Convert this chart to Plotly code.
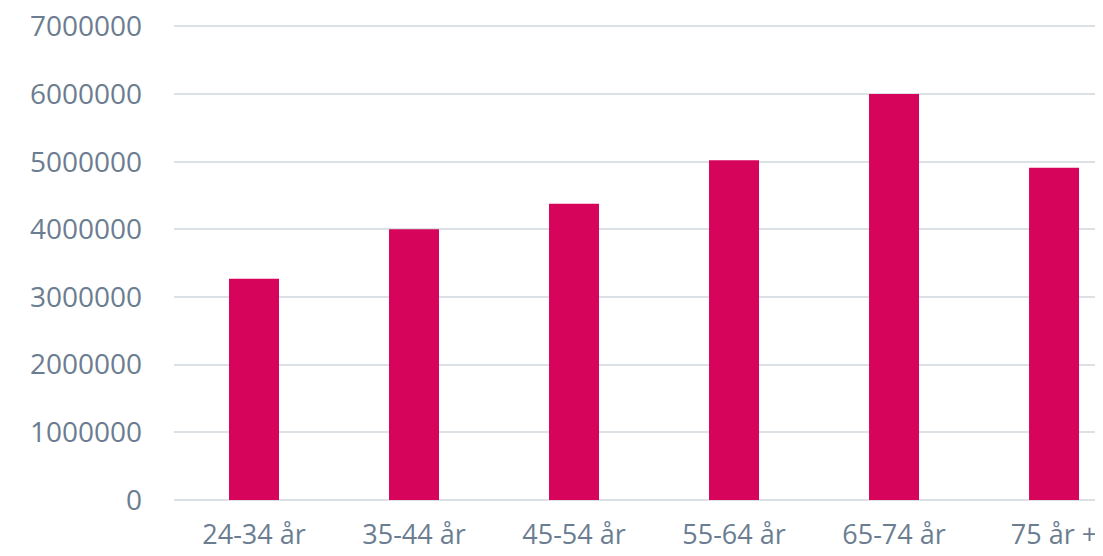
import plotly.graph_objects as go

categories = ["24-34 år", "35-44 år", "45-54 år", "55-64 år", "65-74 år", "75 år +"]
values = [3270000, 4000000, 4380000, 5020000, 6000000, 4910000]
y_ticks = [0, 1000000, 2000000, 3000000, 4000000, 5000000, 6000000, 7000000]

text_color = "#6B7D90"
grid_color = "#DCE1E6"
bar_color = "#D6045A"

fig = go.Figure(go.Bar(x=categories, y=values, marker=dict(color=bar_color, line=dict(width=0)), width=0.3125))

# page body has an 8px default margin; compensate so the figure fills the window
fig.update_layout(
    width=1095, height=548,
    margin=dict(l=166, r=0, t=14.6, b=55.5, autoexpand=False),
    plot_bgcolor="white", paper_bgcolor="white",
    font=dict(family="Open Sans", size=28, color=text_color),
    showlegend=False,
)
fig.update_xaxes(
    range=[-0.5, 5.306], showgrid=False, showline=False, ticks="", automargin=False,
    tickfont=dict(size=27, color=text_color), ticklabelstandoff=16,
    ticklabeloverflow="allow",
)
fig.update_yaxes(
    range=[0, 7050000], tickvals=y_ticks, ticktext=[str(v) for v in y_ticks],
    showgrid=True, gridcolor=grid_color, gridwidth=2, automargin=False,
    zeroline=True, zerolinecolor=grid_color, zerolinewidth=2,
    showline=False, ticks="", ticklabelstandoff=31,
    ticklabeloverflow="allow",
    tickfont=dict(size=28, color=text_color),
)
fig.write_html("out.html")
